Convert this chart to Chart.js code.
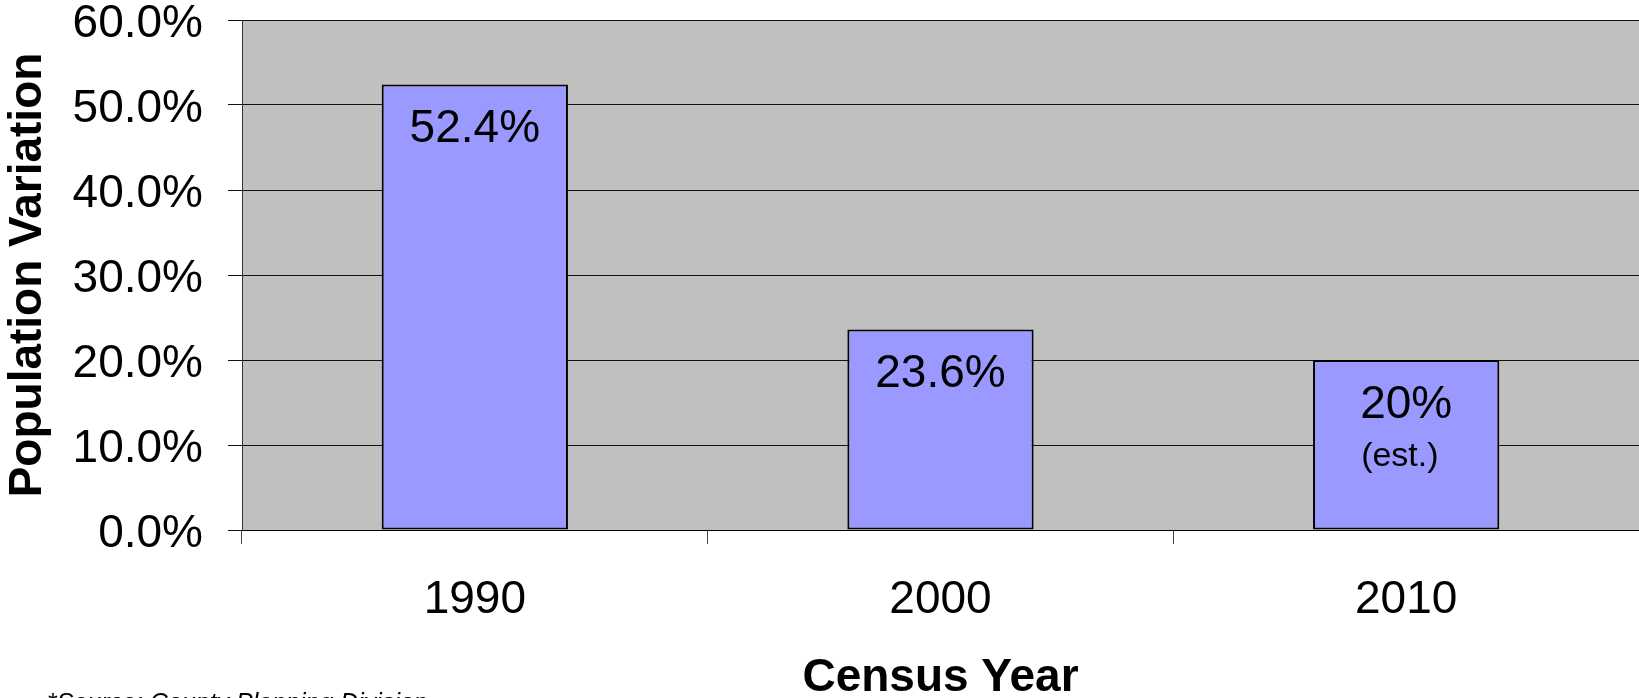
<!DOCTYPE html>
<html><head><meta charset="utf-8">
<script src="https://cdn.jsdelivr.net/npm/chart.js@4/dist/chart.umd.min.js"></script>
<style>html,body{margin:0;padding:0;background:#fff;overflow:hidden}
#wrap{position:relative;width:1639px;height:698px}</style>
</head><body><div id="wrap"><canvas id="c" width="1639" height="698"></canvas></div>
<script>
const categories = ['1990', '2000', '2010'];
const variation = [52.4, 23.6, 20];
const barLabels = ['52.4%', '23.6%', '20%'];
const barSubLabels = ['', '', '(est.)'];
const yTicks = [0, 10, 20, 30, 40, 50, 60];
const yTitle = 'Population Variation';
const xTitle = 'Census Year';
const footnote = '*Source: County Planning Division';

const FONT = '"Liberation Sans", Arial, sans-serif';

const plotBg = {
  id: 'plotBg',
  beforeDraw(chart) {
    const a = chart.chartArea, ctx = chart.ctx;
    ctx.save();
    ctx.fillStyle = '#C0C0C0';
    ctx.fillRect(a.left, a.top, a.right - a.left, a.bottom - a.top);
    ctx.restore();
  }
};

const barText = {
  id: 'barText',
  afterDatasetsDraw(chart) {
    const ctx = chart.ctx;
    const meta = chart.getDatasetMeta(0);
    ctx.save();
    ctx.fillStyle = '#000';
    ctx.textBaseline = 'middle';
    meta.data.forEach((bar, i) => {
      ctx.font = '46px ' + FONT;
      ctx.textAlign = 'center';
      ctx.fillText(barLabels[i], bar.x, bar.y + 45);
      if (barSubLabels[i]) {
        const w = ctx.measureText(barLabels[i]).width;
        ctx.font = '34px ' + FONT;
        ctx.textAlign = 'left';
        ctx.fillText(barSubLabels[i], bar.x - w / 2 + 1, bar.y + 97);
      }
    });
    ctx.restore();
  }
};

const foot = {
  id: 'foot',
  afterDraw(chart) {
    const ctx = chart.ctx;
    ctx.save();
    ctx.fillStyle = '#000';
    ctx.font = 'italic 25px ' + FONT;
    ctx.textAlign = 'left';
    ctx.textBaseline = 'alphabetic';
    ctx.fillText(footnote, 47, 711);
    ctx.restore();
  }
};

function zeroPad(s) {
  s.paddingTop = 0; s.paddingBottom = 0; s.paddingLeft = 0; s.paddingRight = 0;
}

new Chart(document.getElementById('c'), {
  type: 'bar',
  data: {
    labels: categories,
    datasets: [{
      data: variation,
      backgroundColor: '#9999FF',
      borderColor: '#000',
      borderWidth: 2,
      borderSkipped: false,
      barPercentage: 0.4,
      categoryPercentage: 1.0
    }]
  },
  options: {
    responsive: false,
    animation: false,
    devicePixelRatio: 1,
    layout: { padding: { top: 20, left: 0, right: 0, bottom: 0 } },
    plugins: { legend: { display: false }, tooltip: { enabled: false } },
    scales: {
      x: {
        offset: true,
        grid: { offset: true, drawOnChartArea: false, drawTicks: true, tickLength: 14, color: '#444', lineWidth: 1 },
        border: { color: '#000', width: 1 },
        ticks: { font: { family: FONT, size: 46 }, color: '#000', padding: 29, maxRotation: 0, autoSkip: false },
        title: { display: true, text: xTitle, color: '#000', font: { family: FONT, size: 46, weight: 'bold', lineHeight: 0.85 }, padding: { top: 0, bottom: 0 } },
        afterFit(s) { s.height = 168; zeroPad(s); }
      },
      y: {
        min: 0, max: 60,
        afterBuildTicks(s) { s.ticks = yTicks.map(v => ({ value: v })); },
        grid: { color: '#111', lineWidth: 1, tickLength: 14, drawTicks: true },
        border: { color: '#333', width: 1 },
        ticks: { font: { family: FONT, size: 46 }, color: '#000', padding: 25, labelOffset: 4, callback: v => Number(v).toFixed(1) + '%' },
        title: { display: true, text: yTitle, color: '#000', font: { family: FONT, size: 46, weight: 'bold', lineHeight: 1 }, padding: { top: 5, bottom: 0 } },
        afterFit(s) { s.width = 242; zeroPad(s); }
      }
    }
  },
  plugins: [plotBg, barText, foot]
});
</script>
</body></html>
